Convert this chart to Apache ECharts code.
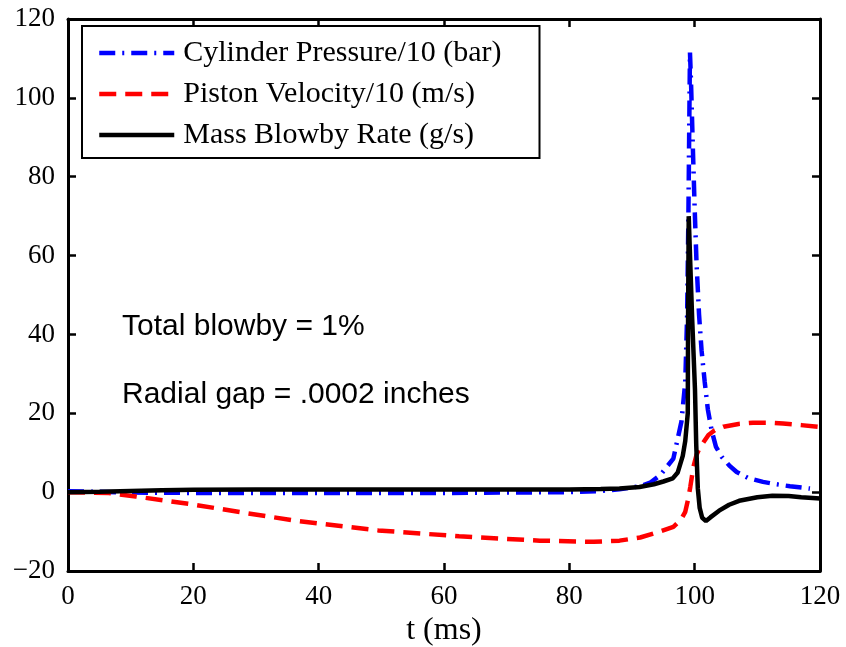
<!DOCTYPE html>
<html>
<head>
<meta charset="utf-8">
<script src="https://cdn.jsdelivr.net/npm/echarts@6/dist/echarts.min.js"></script>
<style>
html,body{margin:0;padding:0;background:#fff;}
#chart{width:846px;height:647px;}
</style>
</head>
<body>
<div id="chart"></div>
<script>
// ---- data ----
var seriesNames = ['Cylinder Pressure/10 (bar)', 'Piston Velocity/10 (m/s)', 'Mass Blowby Rate (g/s)'];

var tPressure = [0, 5, 10, 20, 40, 60, 80, 85, 88, 91.3, 93, 94.5, 96.6, 97.9, 98.5, 98.8, 99.0, 99.15, 99.25, 99.4, 99.7, 100.0, 100.3, 100.7, 101.1, 101.6, 102.1, 102.7, 103.4, 104.3, 105.5, 106.7, 108.5, 110.9, 113, 115.2, 118.4];
var pressure  = [0.2, 0.1, -0.1, -0.2, -0.2, -0.2, 0.0, 0.3, 0.7, 1.5, 2.5, 4.3, 8.5, 18, 28, 45, 70, 95, 111.5, 105, 88, 72, 58, 45, 36, 28, 21, 15.7, 11.5, 9, 6.8, 5.1, 3.6, 2.6, 2.0, 1.5, 0.9];

var tVelocity = [0, 6.5, 10.8, 19.4, 28, 36.6, 49.5, 62.4, 75.3, 83.9, 88, 91.3, 94, 96.6, 97.8, 98.5, 99, 99.3, 99.8, 100.3, 100.9, 102.2, 103.2, 104.6, 107, 109.3, 112, 114.1, 117, 120];
var velocity  = [0, -0.2, -1.1, -3, -5.2, -7.3, -9.7, -11.2, -12.3, -12.6, -12.3, -11.5, -10.2, -8.8, -7, -5, -1.5, 1.3, 6.4, 9.5, 11.5, 14.5, 15.7, 16.6, 17.3, 17.6, 17.6, 17.4, 17, 16.5];

var tBlowby = [0, 5, 10, 15, 20, 30, 40, 60, 80, 85, 88, 91.2, 93.5, 95, 96.5, 97.3, 98.1, 98.5, 98.9, 98.95, 99.05, 99.3, 99.6, 99.85, 100.05, 100.25, 100.5, 100.8, 101.2, 101.8, 102.5, 103.9, 105.5, 107.1, 110, 112.4, 115, 117, 120];
var blowby  = [0, 0.1, 0.3, 0.5, 0.6, 0.7, 0.7, 0.7, 0.7, 0.8, 0.9, 1.3, 2, 2.7, 3.5, 5, 9.2, 13, 20, 45, 70, 58, 44, 34, 26, 12, 1, -4, -6.5, -7.3, -6.4, -4.7, -3.2, -2.2, -1.3, -0.9, -1.0, -1.3, -1.6];

var xTicks = {min: 0, max: 120, interval: 20};
var yTicks = {min: -20, max: 120, interval: 20};
var notes = ['Total blowby = 1%', 'Radial gap = .0002 inches'];

function pairs(xs, ys) { return xs.map(function (x, i) { return [x, ys[i]]; }); }

var serif = '"Liberation Serif", "Times New Roman", serif';
var sans = '"Liberation Sans", Arial, sans-serif';

var chart = echarts.init(document.getElementById('chart'), null, {renderer: 'canvas'});

var axisLine = {show: true, onZero: false, lineStyle: {color: '#000', width: 3}};
var axisTick = {show: true, inside: true, length: 8, lineStyle: {color: '#000', width: 2.5}};
function fmt(v) { return String(v).replace('-', '\u2212'); }

var option = {
  animation: false,
  backgroundColor: '#fff',
  grid: {left: 68, right: 26, top: 19, bottom: 76, containLabel: false, outerBoundsMode: 'none'},
  xAxis: [{
    type: 'value', min: xTicks.min, max: xTicks.max, interval: xTicks.interval,
    position: 'bottom',
    axisLine: axisLine, axisTick: axisTick, splitLine: {show: false},
    axisLabel: {show: true, margin: 12, color: '#000', fontFamily: serif, fontSize: 27, formatter: fmt},
    name: 't (ms)', nameLocation: 'middle', nameGap: 42,
    nameTextStyle: {color: '#000', fontFamily: serif, fontSize: 32}
  }, {
    type: 'value', min: xTicks.min, max: xTicks.max, interval: xTicks.interval,
    position: 'top',
    axisLine: axisLine, axisTick: axisTick, splitLine: {show: false},
    axisLabel: {show: false}
  }],
  yAxis: [{
    type: 'value', min: yTicks.min, max: yTicks.max, interval: yTicks.interval,
    position: 'left',
    axisLine: axisLine, axisTick: axisTick, splitLine: {show: false},
    axisLabel: {show: true, margin: 13, color: '#000', fontFamily: serif, fontSize: 27, formatter: fmt}
  }, {
    type: 'value', min: yTicks.min, max: yTicks.max, interval: yTicks.interval,
    position: 'right',
    axisLine: axisLine, axisTick: axisTick, splitLine: {show: false},
    axisLabel: {show: false}
  }],
  legend: {
    orient: 'vertical', left: 82, top: 26,
    backgroundColor: '#fff', borderColor: '#000', borderWidth: 2,
    padding: [11, 38, 7, 15],
    itemWidth: 75, itemHeight: 14, itemGap: 9,
    itemStyle: {color: 'rgba(0,0,0,0)', borderColor: 'rgba(0,0,0,0)', borderWidth: 0, opacity: 0},
    lineStyle: {width: 4.5},
    textStyle: {color: '#000', fontFamily: serif, fontSize: 30, lineHeight: 32, padding: [0, 0, 0, 4]},
    data: seriesNames
  },
  series: [{
    name: seriesNames[0], type: 'line', showSymbol: false, symbol: 'none',
    data: pairs(tPressure, pressure),
    lineStyle: {color: '#0000ff', width: 4.5, type: [16, 7, 2, 7], cap: 'butt'},
    itemStyle: {color: '#0000ff'}, z: 2
  }, {
    name: seriesNames[1], type: 'line', showSymbol: false, symbol: 'none',
    data: pairs(tVelocity, velocity),
    lineStyle: {color: '#ff0000', width: 4.5, type: [17, 9], cap: 'butt'},
    itemStyle: {color: '#ff0000'}, z: 3
  }, {
    name: seriesNames[2], type: 'line', showSymbol: false, symbol: 'none',
    data: pairs(tBlowby, blowby),
    lineStyle: {color: '#000000', width: 4.5, type: 'solid'},
    itemStyle: {color: '#000000'}, z: 4
  }],
  graphic: [{
    type: 'text', left: 122, top: 312,
    style: {text: notes[0], fill: '#000', font: '30px ' + sans}
  }, {
    type: 'text', left: 122, top: 380,
    style: {text: notes[1], fill: '#000', font: '30px ' + sans}
  }]
};
chart.setOption(option);
</script>
</body>
</html>
